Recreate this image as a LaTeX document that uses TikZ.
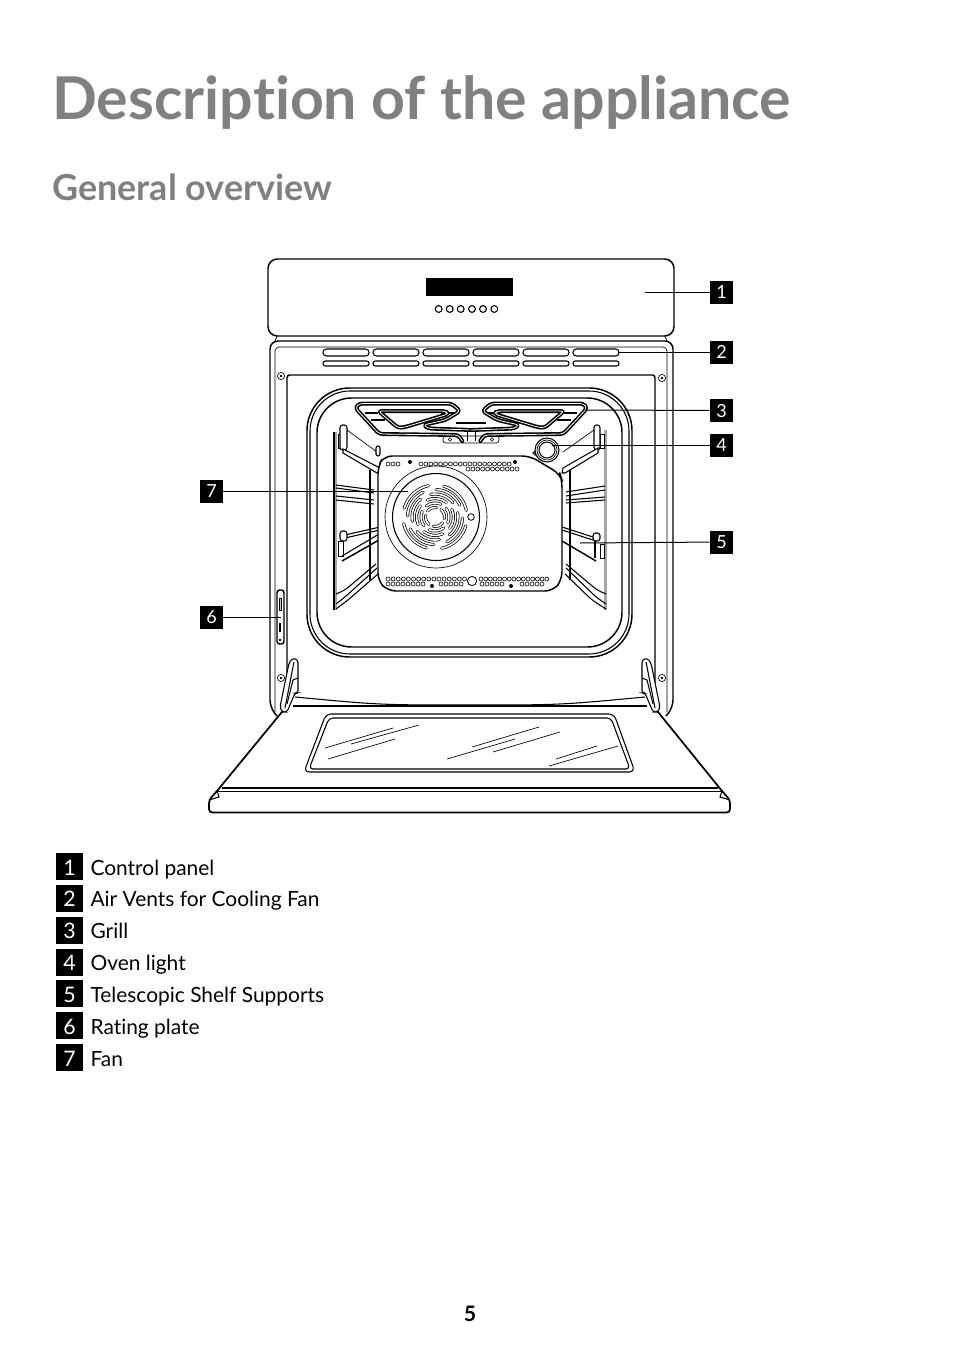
\documentclass[tikz,border=0pt]{standalone}
\usepackage{fontspec}
\setmainfont{Lato}[Ligatures={NoCommon}]
\usetikzlibrary{positioning}
\definecolor{headgrey}{HTML}{808080}
\tikzset{
    outline/.style={draw=black,line width=1.1pt,fill=white},
    thinline/.style={draw=black,line width=0.5pt},
    midline/.style={draw=black,line width=0.8pt},
    grilltube/.style={draw=black,line width=3pt,line join=round,line cap=round,rounded corners=2.5pt,postaction={draw=white,line width=0.6pt}},
    fanslot/.style={draw=black,line width=2.3pt,line cap=round,postaction={draw=white,line width=1.2pt}},
    hole/.style={draw=black,line width=0.45pt,fill=white},
    leader/.style={draw=black,line width=0.75pt},
    tagbox/.style={fill=black,text=white,minimum width=17.25pt,minimum height=17.25pt,inner sep=0pt,text height=12.5pt,text depth=2.1pt,font=\fontsize{13.5}{14}\selectfont},
    keybox/.style={fill=black,text=white,minimum width=20.25pt,minimum height=20.25pt,inner sep=0pt,text height=15.5pt,text depth=2.7pt,font=\fontsize{16}{18}\selectfont},
    keytext/.style={inner sep=0pt,text height=15.5pt,text depth=2.7pt,font=\fontsize{15.7}{18}\selectfont,text=black}
}
\begin{document}
\begin{tikzpicture}[x=0.75pt,y=-0.75pt]
    \useasboundingbox (0,0) rectangle (954,1352);
    \fill[white] (0,0) rectangle (954,1352);
    % headings
    \node[anchor=base west,inner sep=0pt,text=headgrey,font=\fontsize{44.3}{46}\selectfont\bfseries] (title) at (52,120) {Description of the appliance};
    \node[anchor=base west,inner sep=0pt,text=headgrey,font=\fontsize{26.9}{28}\selectfont\bfseries] (subtitle) at (52,200) {General overview};
    \node[anchor=base,inner sep=0pt,font=\fontsize{16}{16}\selectfont\bfseries] (pagenum) at (470,1321) {5};
    % control panel
    \draw[outline,rounded corners=7pt] (268,259) rectangle (674,336);
    \fill[black] (426,278) rectangle (513,296);
    \foreach \bx in {438.7,449.7,460.7,472,483,494.3}
        \draw[midline] (\bx,309) circle (3.4);
    % body
    \draw[outline,rounded corners=6pt] (277,716) -- (270,708) -- (270,341) -- (673,341) -- (673,708) -- (666,716);
    \draw[thinline] (277,336) -- (275,341);
    \draw[thinline] (665,336) -- (667,341);
    \draw[thinline,rounded corners=3pt] (275,712) -- (275,347) -- (667,347) -- (667,712);
    \draw[outline,rounded corners=2pt] (287,700) -- (287,375) -- (655,375) -- (655,700);
    \foreach \vx in {323,373,423,473,523,573} {
        \draw[midline,rounded corners=2.5pt] (\vx,349) rectangle +(46,7);
        \draw[midline,rounded corners=1.8pt] (\vx,361) rectangle +(46,5);
    }
    \foreach \sx/\sy in {281/376,662/378,281/678,662/678} {
        \draw[thinline] (\sx,\sy) circle (3.6);
        \fill[black] (\sx,\sy) circle (1.3);
    }
    % cavity
    \draw[outline,rounded corners=32pt] (307,388) rectangle (632,657);
    \draw[midline,rounded corners=30pt] (310,391) rectangle (629,654);
    \draw[outline,rounded corners=26pt] (317,398) rectangle (622,647);
    % telescopic supports, left
    \fill[gray!70] (334,432) rectangle (337,610);
    \draw[midline] (334,432) -- (334,610);
    \draw[outline] (370,470) -- (370,580);
    \draw[thinline,fill=white] (338,434) rectangle (343,448);
    \draw[midline,fill=white,rounded corners=2pt] (340,425) rectangle (347,450);
    \draw[thinline] (347,430) -- (377,452);
    \draw[midline,rounded corners=1.5pt,fill=white] (376,446) rectangle (380,456);
    \draw[outline,line width=0.8pt] (343,449) -- (380,468) -- (380,473) -- (377,473) -- (343,453) -- cycle;
    \foreach \ya/\yb in {485/490,488/493,496/500,500/504}
        \draw[midline] (336,\ya) -- (374,\yb);
    \draw[midline] (345,535) -- (380,527);
    \draw[midline] (345,538) -- (380,530);
    \draw[midline,fill=white,rounded corners=2pt] (340,531) rectangle (347,541);
    \draw[thinline,fill=white] (338,541) rectangle (343,556);
    \draw[outline,line width=1.1pt] (342,561) -- (379,540);
    \draw[midline] (342,556) -- (379,534);
    \draw[midline,rounded corners=3pt] (336,594) -- (345,590) -- (376,564);
    \draw[midline,rounded corners=3pt] (336,604) -- (345,597) -- (377,568);
    \draw[midline,rounded corners=3pt] (336,609) -- (348,600) -- (378,574);
    % telescopic supports, right
    \fill[gray!70] (604,430) rectangle (607,610);
    \draw[outline] (570,470) -- (570,580);
    \draw[thinline,fill=white] (600,434) rectangle (604,448);
    \draw[midline,fill=white,rounded corners=2pt] (594,425) rectangle (600,450);
    \draw[thinline] (594,430) -- (563,452);
    \draw[outline,line width=0.8pt] (598,448) -- (563,468) -- (562,473) -- (565,473) -- (598,453) -- cycle;
    \foreach \ya/\yb in {492/486,496/490,500/497,503/500}
        \draw[midline] (566,\ya) -- (605,\yb);
    \draw[midline] (562,527) -- (593,537);
    \draw[midline] (562,530) -- (593,540);
    \draw[midline,fill=white,rounded corners=2pt] (593,533) rectangle (600,541);
    \draw[thinline,fill=white] (600,544) rectangle (604,558);
    \draw[outline,line width=1.1pt] (562,541) -- (596,561);
    \draw[midline] (595,541) -- (595,558);
    \draw[midline,rounded corners=3pt] (566,564) -- (597,590) -- (606,594);
    \draw[midline,rounded corners=3pt] (566,568) -- (596,597) -- (606,604);
    \draw[midline,rounded corners=3pt] (565,574) -- (592,600) -- (606,609);
    % fan plate
    \draw[outline,rounded corners=6pt] (378,466) -- (384,456) -- (530,456) -- (560,474) -- (562,480) -- (562,580) -- (553,591) -- (388,591) -- (378,581) -- cycle;
    \foreach \hx in {0,...,2}
        \draw[hole] (388+\hx*5,464) circle (2);
    \foreach \hx in {0,...,18}
        \draw[hole] (421+\hx*4.9,464) circle (2);
    \foreach \hx in {0,...,10}
        \draw[hole] (468+\hx*4.9,469) circle (2);
    \foreach \hx in {0,...,15}
        \draw[hole] (388+\hx*5.1,579) circle (2);
    \foreach \hx in {0,...,14}
        \draw[hole] (481+\hx*4.7,579) circle (2);
    \foreach \hx in {0,...,7}
        \draw[hole] (388+\hx*5,584) circle (2);
    \foreach \hx in {0,...,4} {
        \draw[hole] (441+\hx*5,584) circle (2);
        \draw[hole] (482+\hx*5,584) circle (2);
        \draw[hole] (522+\hx*5,584) circle (2);
    }
    \foreach \dx/\dy in {410/462,515/462,432/586,511/586}
        \fill[black] (\dx,\dy) circle (2);
    \draw[hole,line width=0.6pt] (472,581) circle (4.6);
    % fan
    \draw[thinline,fill=white] (436,517) circle (51);
    \draw[midline] (436,517) circle (43.5);
    \foreach \sect in {10,100,190,280}
        \foreach \rad in {9.5,14,18.5,23,27.5,32}
            \draw[fanslot] ({435+\rad*cos(\sect+\rad*3)},{517+\rad*sin(\sect+\rad*3)}) arc[start angle=\sect+\rad*3,delta angle=62,radius=\rad];
    \draw[hole,line width=0.6pt] (471,517) circle (3.3);
    % grill
    \draw[thinline,fill=white,rounded corners=2pt] (443,436) rectangle (499,443);
    \foreach \hx in {450,492}
        \draw[hole] (\hx,439.5) circle (1.8);
    \foreach \sgn in {1,-1} {
        \begin{scope}[shift={(471.3,0)},xscale=\sgn]
            \draw[midline] (-106,413) -- (-93,413);
            \draw[midline] (-100,420) -- (-86,420);
            \draw[midline] (-30,413) -- (-16,413);
            \draw[midline] (-15,423) -- (0,423);
            \draw[midline] (-4,431) -- (-4,441);
            \draw[grilltube] (-9,441) -- (-13,435) -- (-92,434) -- (-116,408) -- (-112,403.5) -- (-20,403.5) -- (-11,411) -- (-26,420) -- (-48,425) -- (-43,428.5) -- (0,430);
            \draw[grilltube] (-93,411) -- (-26,411) -- (-23,414) -- (-66,427) -- (-73,428) -- cycle;
        \end{scope}
    }
    % oven light
    \draw[midline,fill=white] (538,449) -- (533,453) -- (538,457) -- cycle;
    \draw[midline,fill=white] (547,450) circle (12);
    \draw[thinline] (547,450) circle (10);
    \draw[midline] (547,450) circle (8);
    % rating plate
    \draw[outline,rounded corners=2pt] (277,590) rectangle (284,644);
    \draw[thinline,fill=gray!40] (279,598) rectangle (281.5,610);
    \draw[midline] (280,623) -- (280,632);
    \fill[black] (280,640) circle (1.4);
    % door
    \draw[outline,line width=1.3pt,rounded corners=2.5pt] (286,707) -- (217,791) -- (209,800) -- (209,812.5) -- (730,812.5) -- (730,800) -- (722,791) -- (654,707);
    \draw[outline,line width=1.2pt] (222,788) -- (718,788);
    \draw[thinline] (218,791.5) -- (722,791.5);
    \draw[midline] (217,791) -- (219,797) -- (209,800);
    \draw[midline] (722,791) -- (720,797) -- (730,800);
    \draw[midline] (295,697) .. controls (380,705) .. (470,705) .. controls (560,705) .. (645,697);
    \draw[outline] (293,706) -- (647,706);
    \draw[midline,rounded corners=4pt] (326,714) -- (614,714) -- (635,772) -- (304,772) -- cycle;
    \draw[midline,rounded corners=3pt] (329,718) -- (611,718) -- (630,769) -- (309,769) -- cycle;
    \foreach \ax/\ay/\bx/\by in {325/748/393/728,351/744/419/725,328/759/395/739,472/747/539/727,447/759/515/739,493/752/560/732,556/759/597/746,549/766/618/746}
        \draw[thinline] (\ax,\ay) -- (\bx,\by);
    % hinges
    \foreach \sgn in {1,-1} {
        \begin{scope}[shift={(470,0)},xscale=\sgn]
            \draw[midline,fill=white,rounded corners=2pt] (-177,658) -- (-172,660) -- (-172,693) -- (-175,693) -- (-183,712) -- (-188,712) -- (-190,707) -- (-181,663) -- cycle;
            \draw[midline] (-176,662) -- (-178,672) -- (-185,708);
            \draw[midline] (-172,678) -- (-177,680) -- (-183,704);
        \end{scope}
    }
    % callouts
    \coordinate (end1) at (645,292);
    \coordinate (end2) at (618,352);
    \coordinate (end3) at (585,410);
    \coordinate (end4) at (552,445);
    \coordinate (end5) at (580,543);
    \coordinate (end6) at (281,617);
    \coordinate (end7) at (408,491);
    \node[tagbox] (tag1) at (721.5,292) {1};
    \node[tagbox] (tag2) at (721.5,352) {2};
    \node[tagbox] (tag3) at (721.5,410.5) {3};
    \node[tagbox] (tag4) at (721.5,445) {4};
    \node[tagbox] (tag5) at (721.5,542) {5};
    \node[tagbox] (tag6) at (211.5,617) {6};
    \node[tagbox] (tag7) at (211.5,491) {7};
    \foreach \num in {1,...,7}
        \draw[leader] (end\num) -- (tag\num);
    % legend
    \foreach \num/\txt [evaluate=\num as \ypos using 866.5+(\num-1)*31.85] in {1/Control panel,2/Air Vents for Cooling Fan,3/Grill,4/Oven light,5/Telescopic Shelf Supports,6/Rating plate,7/Fan} {
        \node[keybox] (key\num) at (69.5,\ypos) {\num};
        \node[keytext,right=5.25pt of key\num] (keytxt\num) {\txt};
    }
\end{tikzpicture}
\end{document}
